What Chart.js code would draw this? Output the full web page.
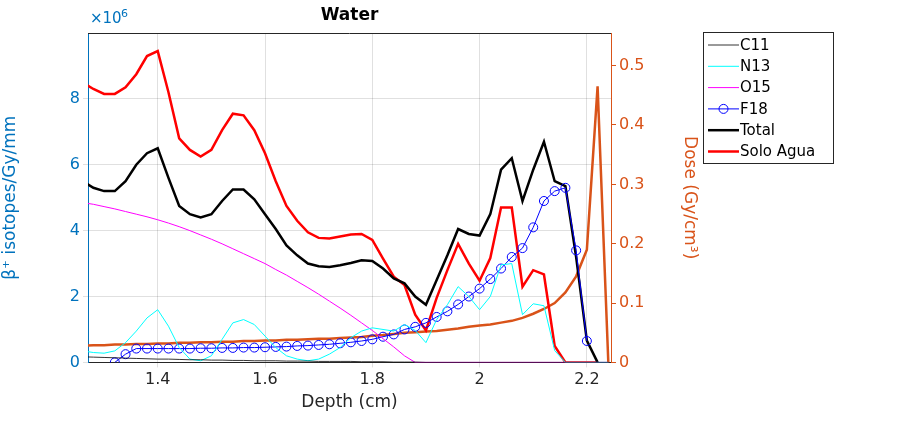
<!DOCTYPE html>
<html>
<head>
<meta charset="utf-8">
<script src="https://cdn.jsdelivr.net/npm/chart.js@4"></script>
<style>
  body { margin: 0; background: #fff; }
  #wrap { width: 900px; height: 421px; }
</style>
</head>
<body>
<div id="wrap"><canvas id="water"></canvas></div>
<script>
// depth grid (cm) and isotope yields (x1e6 per Gy/mm), dose in Gy/cm3
var depth = [1.26,1.28,1.30,1.32,1.34,1.36,1.38,1.40,1.42,1.44,1.46,1.48,1.50,1.52,1.54,1.56,1.58,1.60,1.62,1.64,1.66,1.68,1.70,1.72,1.74,1.76,1.78,1.80,1.82,1.84,1.86,1.88,1.90,1.92,1.94,1.96,1.98,2.00,2.02,2.04,2.06,2.08,2.10,2.12,2.14,2.16,2.18,2.20,2.22,2.24];

var c11 = [0.17,0.16,0.15,0.14,0.13,0.12,0.11,0.10,0.10,0.09,0.08,0.08,0.07,0.07,0.06,0.06,0.05,0.05,0.05,0.04,0.04,0.04,0.03,0.03,0.03,0.03,0.02,0.02,0.02,0.01,0.01,0.01,0,0,0,0,0,0,0,0,0,0,0,0,0,0,0,0,0,0];
var n13 = [0.35,0.3,0.28,0.35,0.6,0.95,1.35,1.6,1.1,0.45,0.1,0.05,0.2,0.7,1.2,1.3,1.15,0.8,0.45,0.2,0.1,0.05,0.1,0.25,0.45,0.75,0.95,1.05,1.0,0.95,1.15,0.97,0.6,1.3,1.75,2.3,2.0,1.6,2.0,2.96,3.0,1.45,1.78,1.72,0.36,0,0,0,0,0];
var o15 = [4.85,4.8,4.73,4.66,4.58,4.5,4.42,4.33,4.23,4.12,4.0,3.87,3.74,3.6,3.45,3.3,3.15,3.0,2.82,2.65,2.46,2.27,2.07,1.86,1.65,1.43,1.2,0.97,0.72,0.47,0.2,0,0,0,0,0,0,0,0,0,0,0,0,0,0,0,0,0,0,0];
var f18 = [null,null,null,0,0.25,0.42,0.42,0.42,0.42,0.42,0.42,0.43,0.43,0.44,0.44,0.45,0.45,0.46,0.47,0.48,0.5,0.51,0.53,0.55,0.58,0.61,0.65,0.7,0.78,0.85,1.0,1.08,1.2,1.38,1.55,1.76,2.0,2.24,2.53,2.85,3.2,3.47,4.1,4.9,5.2,5.3,3.4,0.65,null,null];
var total = [5.5,5.3,5.2,5.2,5.5,6.0,6.35,6.5,5.6,4.75,4.5,4.4,4.5,4.9,5.25,5.25,4.95,4.5,4.05,3.55,3.25,3.0,2.92,2.9,2.95,3.02,3.1,3.08,2.85,2.55,2.4,2.0,1.75,2.5,3.25,4.05,3.9,3.85,4.5,5.85,6.2,4.9,5.85,6.7,5.5,5.35,3.2,0.66,0,null];
var soloAgua = [8.5,8.3,8.15,8.15,8.35,8.75,9.3,9.45,8.2,6.8,6.45,6.25,6.45,7.05,7.55,7.5,7.05,6.35,5.5,4.75,4.3,3.95,3.78,3.76,3.82,3.88,3.9,3.72,3.15,2.6,2.35,1.45,0.97,1.96,2.8,3.6,3.0,2.48,3.17,4.7,4.7,2.3,2.8,2.67,0.5,0,0,0,0,null];
var dose = [0.028,0.029,0.029,0.030,0.030,0.031,0.031,0.032,0.032,0.033,0.033,0.034,0.034,0.035,0.035,0.036,0.036,0.037,0.037,0.038,0.038,0.039,0.040,0.040,0.041,0.042,0.043,0.045,0.046,0.048,0.050,0.051,0.052,0.053,0.055,0.057,0.060,0.062,0.064,0.067,0.070,0.075,0.082,0.090,0.100,0.118,0.145,0.190,0.465,0];

var blue = '#0072BD', orange = '#D95319';

function pts(arr) {
  return depth.map(function (d, i) { return { x: d, y: arr[i] }; });
}

// MATLAB-like legend box and the x10^6 / title texts
var extras = {
  id: 'extras',
  afterDraw: function (chart) {
    var ctx = chart.ctx, a = chart.chartArea;
    ctx.save();
    ctx.fillStyle = '#000';
    ctx.font = 'bold 17px "DejaVu Sans"';
    ctx.textAlign = 'center';
    ctx.textBaseline = 'middle';
    ctx.fillText('Water', (a.left + a.right) / 2, 16);
    ctx.fillStyle = blue;
    ctx.font = '15px "DejaVu Sans"';
    ctx.textAlign = 'left';
    ctx.fillText('\u00d710', a.left + 2, 19);
    ctx.font = '11px "DejaVu Sans"';
    ctx.fillText('6', a.left + 33, 14);
    // box top border
    ctx.strokeStyle = '#262626';
    ctx.lineWidth = 1;
    ctx.beginPath(); ctx.moveTo(a.left, a.top + 0.5); ctx.lineTo(a.right, a.top + 0.5); ctx.stroke();
    // legend
    var lx = 703, ly = 32, lw = 130, lh = 131;
    ctx.fillStyle = '#fff';
    ctx.fillRect(lx, ly, lw, lh);
    ctx.strokeRect(lx + 0.5, ly + 0.5, lw, lh);
    ctx.font = '15px "DejaVu Sans"';
    chart.data.datasets.forEach(function (ds, i) {
      if (ds.label === 'Dose') return;
      var y = ly + 13 + i * 21.3;
      ctx.strokeStyle = ds.borderColor;
      ctx.lineWidth = ds.borderWidth;
      ctx.beginPath(); ctx.moveTo(lx + 5, y); ctx.lineTo(lx + 36, y); ctx.stroke();
      if (ds.pointRadius) {
        ctx.lineWidth = 1;
        ctx.beginPath(); ctx.arc(lx + 20.5, y, 4.5, 0, Math.PI * 2); ctx.stroke();
      }
      ctx.fillStyle = '#000';
      ctx.fillText(ds.label, lx + 37, y + 1);
    });
    ctx.restore();
  }
};

new Chart(document.getElementById('water'), {
  type: 'line',
  data: {
    datasets: [
      { label: 'C11', data: pts(c11), borderColor: '#000000', borderWidth: 0.8, pointRadius: 0, yAxisID: 'y' },
      { label: 'N13', data: pts(n13), borderColor: '#00ffff', borderWidth: 1, pointRadius: 0, yAxisID: 'y' },
      { label: 'O15', data: pts(o15), borderColor: '#ff00ff', borderWidth: 1, pointRadius: 0, yAxisID: 'y' },
      { label: 'F18', data: pts(f18), borderColor: '#0000ff', borderWidth: 1, pointRadius: 4.5, pointBackgroundColor: 'rgba(0,0,0,0)', pointBorderColor: '#0000ff', pointBorderWidth: 1, yAxisID: 'y' },
      { label: 'Total', data: pts(total), borderColor: '#000000', borderWidth: 2.5, pointRadius: 0, yAxisID: 'y' },
      { label: 'Solo Agua', data: pts(soloAgua), borderColor: '#ff0000', borderWidth: 2.5, pointRadius: 0, yAxisID: 'y' },
      { label: 'Dose', data: pts(dose), borderColor: orange, borderWidth: 2.5, pointRadius: 0, yAxisID: 'y2' }
    ]
  },
  options: {
    animation: false,
    responsive: true,
    maintainAspectRatio: false,
    layout: { padding: { top: 33, right: 200, bottom: 4, left: 0 } },
    plugins: { legend: { display: false }, tooltip: { enabled: false } },
    scales: {
      x: {
        type: 'linear', min: 1.27, max: 2.245,
        afterBuildTicks: function (s) { s.ticks = [1.4, 1.6, 1.8, 2.0, 2.2].map(function (v) { return { value: v }; }); },
        ticks: { color: '#262626', font: { size: 16, family: 'DejaVu Sans' }, callback: function (v) { return String(+v.toFixed(1)); } },
        grid: { color: 'rgba(0,0,0,0.12)', tickLength: 5 },
        border: { color: '#262626' },
        title: { display: true, text: 'Depth (cm)', color: '#262626', font: { size: 17, family: 'DejaVu Sans' }, padding: { top: 0 } }
      },
      y: {
        position: 'left', min: 0, max: 10,
        afterBuildTicks: function (s) { s.ticks = [0, 2, 4, 6, 8].map(function (v) { return { value: v }; }); },
        afterFit: function (s) { s.width = 88; },
        ticks: { color: blue, font: { size: 16, family: 'DejaVu Sans' } },
        grid: { color: 'rgba(0,0,0,0.12)', tickLength: 5 },
        border: { color: blue },
        title: { display: true, text: '\u03b2\u207a isotopes/Gy/mm', color: blue, font: { size: 17, family: 'DejaVu Sans' }, padding: 0 }
      },
      y2: {
        position: 'right', min: 0, max: 0.555,
        afterBuildTicks: function (s) { s.ticks = [0, 0.1, 0.2, 0.3, 0.4, 0.5].map(function (v) { return { value: v }; }); },
        afterFit: function (s) { s.width = 89; },
        ticks: { color: orange, font: { size: 16, family: 'DejaVu Sans' }, callback: function (v) { return v === 0 ? '0' : String(+v.toFixed(1)); } },
        grid: { drawOnChartArea: false, color: orange, tickLength: 5 },
        border: { color: orange },
        title: { display: true, text: 'Dose (Gy/cm\u00b3)', color: orange, font: { size: 17, family: 'DejaVu Sans' }, padding: 0 }
      }
    }
  },
  plugins: [extras]
});
</script>
</body>
</html>
